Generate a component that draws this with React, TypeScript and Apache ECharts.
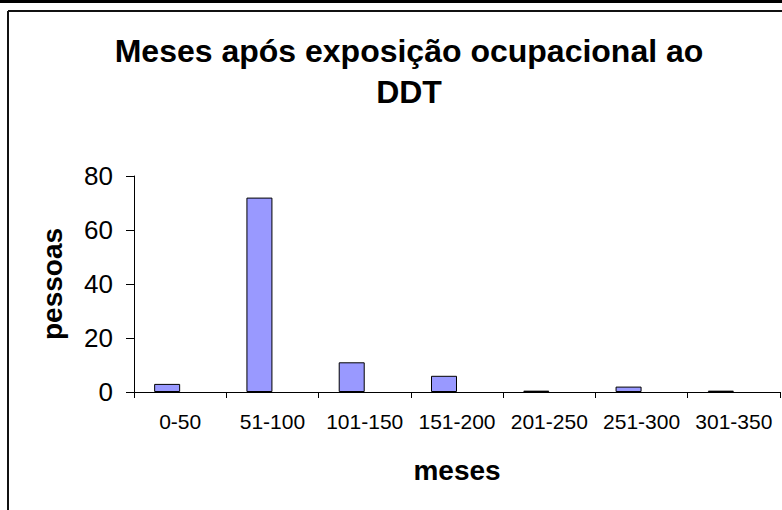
import React, { useEffect, useRef } from "react";
import * as echarts from "echarts";

const categories = ["0-50", "51-100", "101-150", "151-200", "201-250", "251-300", "301-350"];
const pessoas = [3, 72, 11, 6, 0.5, 2, 0.5];
const emptySeries = [null, null, null, null, null, null, null];
const yTicks = { min: 0, max: 80, interval: 20 };
const titleText = "Meses após exposição ocupacional ao\nDDT";
const yName = "pessoas";
const xName = "meses";

const FONT = "'Liberation Sans', Arial, sans-serif";

export default function App() {
  const ref = useRef<HTMLDivElement>(null);
  useEffect(() => {
    if (!ref.current) return;
    const chart = echarts.init(ref.current, undefined, { renderer: "svg" });
    chart.setOption({
      animation: false,
      backgroundColor: "#ffffff",
      title: {
        text: titleText,
        left: 404,
        top: 25,
        textAlign: "center",
        textStyle: {
          fontFamily: FONT,
          fontSize: 32,
          fontWeight: "bold",
          color: "#000",
          lineHeight: 41,
        },
      },
      graphic: [
        { type: "rect", shape: { x: 0, y: 0, width: 782, height: 3 }, style: { fill: "#000" }, silent: true },
        { type: "line", shape: { x1: 8, y1: 11, x2: 8, y2: 510 }, style: { stroke: "#111", lineWidth: 2 }, silent: true },
        { type: "line", shape: { x1: 8, y1: 11, x2: 782, y2: 11 }, style: { stroke: "#111", lineWidth: 2 }, silent: true },
      ],
      grid: { left: 134, right: 2, top: 176, bottom: 118, containLabel: false },
      xAxis: {
        type: "category",
        data: categories,
        boundaryGap: true,
        name: xName,
        nameLocation: "middle",
        nameGap: 64,
        nameTextStyle: { fontFamily: FONT, fontSize: 28, fontWeight: "bold", color: "#000" },
        axisLine: { lineStyle: { color: "#000", width: 1 } },
        axisTick: { show: true, length: 6, alignWithLabel: false, lineStyle: { color: "#000" } },
        axisLabel: { fontFamily: FONT, fontSize: 21, color: "#000", margin: 19, interval: 0 },
        splitLine: { show: false },
      },
      yAxis: {
        type: "value",
        min: yTicks.min,
        max: yTicks.max,
        interval: yTicks.interval,
        name: yName,
        nameLocation: "middle",
        nameRotate: 90,
        nameGap: 68,
        nameTextStyle: { fontFamily: FONT, fontSize: 28, fontWeight: "bold", color: "#000" },
        axisLine: { show: true, lineStyle: { color: "#000", width: 1 } },
        axisTick: { show: true, length: 8, lineStyle: { color: "#000" } },
        axisLabel: { fontFamily: FONT, fontSize: 26, color: "#000", margin: 21 },
        splitLine: { show: false },
      },
      series: [
        {
          type: "bar",
          data: pessoas,
          barWidth: 26,
          barGap: "0%",
          itemStyle: { color: "#9999FF", borderColor: "#000", borderWidth: 1 },
        },
        {
          type: "bar",
          data: emptySeries,
          barWidth: 26,
          barGap: "0%",
          itemStyle: { color: "#9999FF", borderColor: "#000", borderWidth: 1 },
        },
      ],
    });
    return () => chart.dispose();
  }, []);
  return <div ref={ref} style={{ position: "fixed", left: 0, top: 0, width: 782, height: 510 }} />;
}
